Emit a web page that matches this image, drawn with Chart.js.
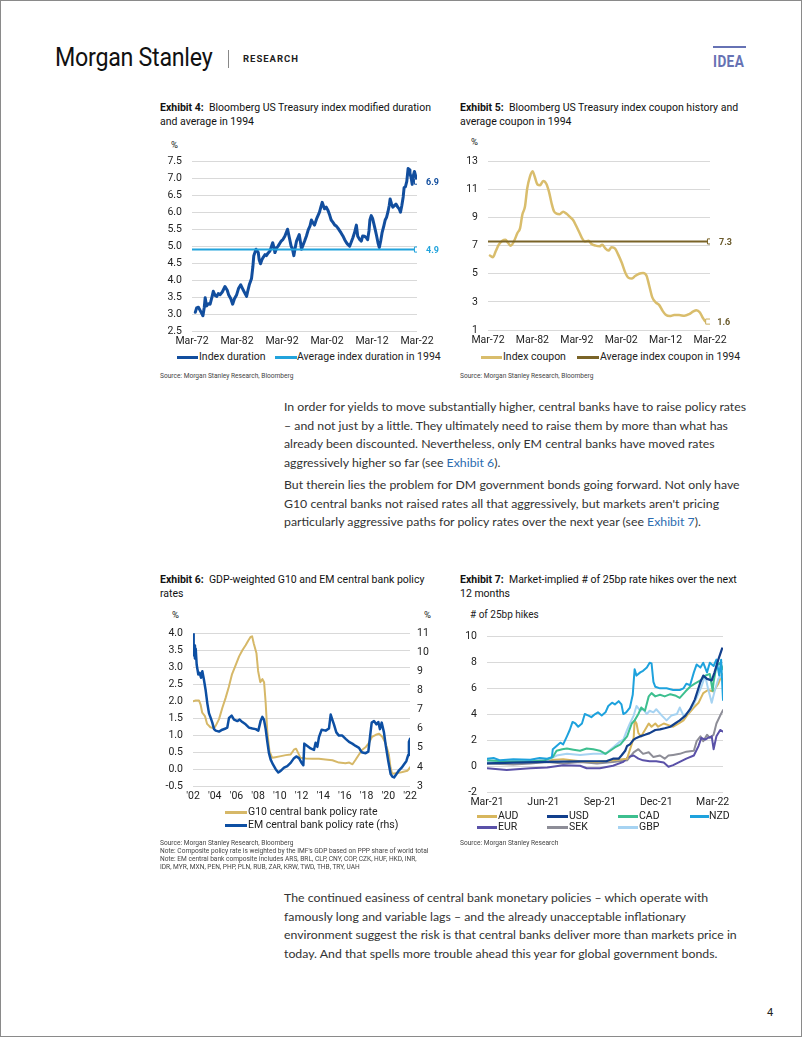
<!DOCTYPE html>
<html><head><meta charset="utf-8">
<script src="https://cdn.jsdelivr.net/npm/chart.js@4.4.1/dist/chart.umd.min.js"></script>
<style>
html,body{margin:0;padding:0;background:#fff}
body{width:802px;height:1037px;position:relative;overflow:hidden;font-family:Roboto,"Liberation Sans",sans-serif;color:#222}
#frame{position:absolute;left:0;top:0;width:800px;height:1035px;border:1px solid #8a8a8a;pointer-events:none}
.a{position:absolute;white-space:nowrap}
.title{font-size:10.5px;line-height:14px;color:#111}
.src{font-size:6.6px;line-height:8px;color:#444}
.leg{font-size:10.5px;line-height:12px;color:#222}
.leg i{position:absolute;top:5px;height:3px;left:0}
.unit{font-size:9.5px;color:#222}
.body{font-family:Lato,"Open Sans",sans-serif;font-size:12.3px;line-height:18.6px;color:#333}
.body a{color:#2c6cb0;text-decoration:none}
canvas{position:absolute}
</style></head>
<body>
<div id="frame"></div>
<!-- header -->
<div class="a" style="left:55px;top:43px;font-size:25px;line-height:30px;color:#111;transform:scaleX(0.93);transform-origin:left center;letter-spacing:-0.3px">Morgan Stanley</div>
<div class="a" style="left:228px;top:50px;width:1px;height:18px;background:#888"></div>
<div class="a" style="left:243px;top:53px;font-size:9.5px;font-weight:700;letter-spacing:1px;color:#222">RESEARCH</div>
<div class="a" style="left:713px;top:46px;width:33px;height:2px;background:#6672b4"></div>
<div class="a" style="left:713px;top:51px;font-size:17px;font-weight:700;color:#6672b4;transform:scaleX(0.8);transform-origin:left center;letter-spacing:0.5px">IDEA</div>

<!-- Exhibit 4 -->
<div class="a title" style="left:160px;top:101px"><b>Exhibit 4:</b>&nbsp; Bloomberg US Treasury index modified duration<br>and average in 1994</div>
<div class="a unit" style="left:171px;top:139px">%</div>
<canvas id="c4" width="290" height="205" style="left:150px;top:145px"></canvas>
<div class="a leg" style="left:177px;top:351px"><i style="width:21px;background:#124e9e"></i><span style="margin-left:22px">Index duration</span></div>
<div class="a leg" style="left:275px;top:351px"><i style="width:22px;background:#22a3dc"></i><span style="margin-left:22px">Average index duration in 1994</span></div>
<div class="a src" style="left:160px;top:372px">Source: Morgan Stanley Research, Bloomberg</div>

<!-- Exhibit 5 -->
<div class="a title" style="left:460px;top:101px"><b>Exhibit 5:</b>&nbsp; Bloomberg US Treasury index coupon history and<br>average coupon in 1994</div>
<div class="a unit" style="left:471px;top:136px">%</div>
<canvas id="c5" width="300" height="205" style="left:450px;top:145px"></canvas>
<div class="a leg" style="left:481px;top:351px"><i style="width:21px;background:#d9bd6c"></i><span style="margin-left:22px">Index coupon</span></div>
<div class="a leg" style="left:577px;top:351px"><i style="width:22px;background:#7a6428"></i><span style="margin-left:23px">Average index coupon in 1994</span></div>
<div class="a src" style="left:460px;top:372px">Source: Morgan Stanley Research, Bloomberg</div>

<!-- body text 1 -->
<div class="a body" style="left:284px;top:398px">In order for yields to move substantially higher, central banks have to raise policy rates<br>– and not just by a little. They ultimately need to raise them by more than what has<br>already been discounted. Nevertheless, only EM central banks have moved rates<br>aggressively higher so far (see <a>Exhibit 6</a>).</div>
<div class="a body" style="left:284px;top:476px">But therein lies the problem for DM government bonds going forward. Not only have<br>G10 central banks not raised rates all that aggressively, but markets aren't pricing<br>particularly aggressive paths for policy rates over the next year (see <a>Exhibit 7</a>).</div>

<!-- Exhibit 6 -->
<div class="a title" style="left:160px;top:573px"><b>Exhibit 6:</b>&nbsp; GDP-weighted G10 and EM central bank policy<br>rates</div>
<div class="a unit" style="left:172px;top:609px">%</div>
<div class="a unit" style="left:424px;top:609px">%</div>
<canvas id="c6" width="290" height="189" style="left:150px;top:617px"></canvas>
<div class="a leg" style="left:225px;top:806px"><i style="width:22px;background:#d6b868"></i><span style="margin-left:23px">G10 central bank policy rate</span></div>
<div class="a leg" style="left:225px;top:819px"><i style="width:22px;background:#0d4fa3"></i><span style="margin-left:23px">EM central bank policy rate (rhs)</span></div>
<div class="a src" style="left:160px;top:839px">Source: Morgan Stanley Research, Bloomberg<br>Note: Composite policy rate is weighted by the IMF's GDP based on PPP share of world total<br>Note: EM central bank composite includes ARS, BRL, CLP, CNY, COP, CZK, HUF, HKD, INR,<br>IDR, MYR, MXN, PEN, PHP, PLN, RUB, ZAR, KRW, TWD, THB, TRY, UAH</div>

<!-- Exhibit 7 -->
<div class="a title" style="left:460px;top:573px"><b>Exhibit 7:</b>&nbsp; Market-implied # of 25bp rate hikes over the next<br>12 months</div>
<div class="a unit" style="left:470px;top:609px;font-size:10px"># of 25bp hikes</div>
<canvas id="c7" width="290" height="194" style="left:450px;top:620px"></canvas>
<div class="a leg" style="left:477px;top:810px"><i style="width:20px;background:#d7b65d"></i><span style="margin-left:21px">AUD</span></div>
<div class="a leg" style="left:547px;top:810px"><i style="width:21px;background:#123f8c"></i><span style="margin-left:22px">USD</span></div>
<div class="a leg" style="left:618px;top:810px"><i style="width:20px;background:#3dbf8f"></i><span style="margin-left:21px">CAD</span></div>
<div class="a leg" style="left:690px;top:810px"><i style="width:19px;background:#1ea2dd"></i><span style="margin-left:19px">NZD</span></div>
<div class="a leg" style="left:477px;top:821px"><i style="width:20px;background:#5a51a8"></i><span style="margin-left:21px">EUR</span></div>
<div class="a leg" style="left:547px;top:821px"><i style="width:21px;background:#8d8d97"></i><span style="margin-left:22px">SEK</span></div>
<div class="a leg" style="left:618px;top:821px"><i style="width:20px;background:#a6d3f2"></i><span style="margin-left:21px">GBP</span></div>
<div class="a src" style="left:460px;top:839px">Source: Morgan Stanley Research</div>

<!-- body text 2 -->
<div class="a body" style="left:284px;top:889px">The continued easiness of central bank monetary policies – which operate with<br>famously long and variable lags – and the already unacceptable inflationary<br>environment suggest the risk is that central banks deliver more than markets price in<br>today. And that spells more trouble ahead this year for global government bonds.</div>

<div class="a" style="left:767px;top:1006px;font-size:11px;color:#222">4</div>

<script>
// ===== Exhibit 4 data =====
const ex4Years = [1972.9,1973.2,1973.6,1974.0,1974.4,1974.6,1974.9,1975.1,1975.4,1975.8,1976.2,1976.6,1976.9,1977.3,1977.7,1978.0,1978.4,1978.9,1979.5,1980.0,1980.3,1980.8,1981.2,1981.6,1982.1,1982.5,1983.0,1983.4,1983.7,1984.3,1984.6,1984.9,1985.4,1985.7,1985.9,1986.4,1986.9,1987.1,1987.4,1987.7,1988.0,1988.4,1988.7,1989.1,1989.5,1990.1,1990.4,1990.6,1991.0,1991.3,1992.0,1992.4,1992.8,1993.4,1993.9,1994.2,1994.5,1994.8,1995.1,1995.4,1996.0,1996.3,1996.5,1996.9,1997.2,1997.6,1998.0,1998.4,1998.7,1999.0,1999.4,1999.9,2000.5,2000.8,2001.1,2001.6,2002.0,2002.4,2002.8,2003.1,2003.5,2003.9,2004.2,2004.6,2005.0,2005.3,2005.7,2006.1,2006.5,2006.8,2007.2,2007.5,2007.9,2008.3,2008.7,2009.0,2009.4,2009.8,2010.1,2010.5,2010.9,2011.2,2011.5,2011.7,2012.0,2012.3,2012.6,2012.9,2013.2,2013.5,2013.8,2014.1,2014.4,2014.8,2015.1,2015.4,2015.7,2016.0,2016.2,2016.5,2016.8,2017.2,2017.5,2017.9,2018.2,2018.5,2018.8,2019.1,2019.3,2019.6,2019.9,2020.05,2020.2,2020.4,2020.6,2020.9,2021.1,2021.3,2021.6,2021.9,2022.1];
const ex4Duration = [3.05,3.18,3.2,3.1,3.0,2.95,3.2,3.48,3.24,3.3,3.29,3.5,3.67,3.55,3.52,3.6,3.57,3.65,3.81,3.7,3.57,3.45,3.29,3.45,3.57,3.75,3.86,3.75,3.67,3.52,3.7,3.86,4.05,4.4,4.72,4.91,4.81,4.6,4.48,4.6,4.67,4.75,4.72,4.8,4.86,5.1,4.95,4.81,4.95,5.0,5.15,5.2,5.29,5.5,5.19,5.0,4.91,4.72,4.95,5.15,5.34,5.1,4.91,5.05,5.15,5.3,5.48,5.6,5.77,5.7,5.62,5.82,6.0,6.15,6.29,6.1,6.15,6.05,5.9,5.77,5.7,5.62,5.6,5.53,5.45,5.39,5.3,5.19,5.1,5.05,5.0,5.1,5.24,5.4,5.62,5.29,5.2,5.15,5.3,5.29,5.25,5.19,5.45,5.77,5.9,5.82,5.65,5.48,5.3,5.1,4.96,5.15,5.39,5.6,5.77,5.85,6.0,6.2,6.39,6.25,6.15,6.2,6.24,6.15,6.1,6.0,6.2,6.45,6.72,6.75,6.91,7.1,7.29,7.25,7.15,7.0,6.82,7.05,7.2,7.05,6.96];
const ex4Avg = 4.9;
const ex4EndLabels = ['6.9', '4.9'];
const ex4EndValues = [6.9, 4.9];
const ex4XLabelStart = 72; // Mar-72 ... Mar-22 every 10 years

// ===== Exhibit 5 data =====
const ex5Years = [1972.6,1973.3,1973.9,1974.6,1975.4,1976.1,1976.7,1977.3,1978.0,1978.8,1979.4,1979.9,1980.5,1981.0,1981.6,1982.2,1982.7,1983.3,1983.9,1984.6,1985.3,1985.9,1986.5,1987.0,1987.6,1988.3,1989.1,1989.8,1990.6,1991.3,1992.1,1992.8,1993.4,1994.0,1994.8,1995.5,1996.4,1997.3,1997.9,1998.5,1999.3,2000.0,2000.8,2001.5,2002.3,2003.1,2003.8,2004.6,2005.3,2006.2,2007.1,2007.9,2008.5,2009.2,2010.0,2010.7,2011.5,2012.2,2013.1,2014.1,2015.2,2016.4,2017.5,2018.4,2019.1,2019.9,2020.5,2021.1,2021.6];
const ex5Coupon = [6.3,6.18,6.6,7.07,7.35,7.42,7.19,7.0,7.3,7.9,8.25,9.2,9.78,11.07,11.9,12.3,11.9,11.35,11.3,11.6,11.4,10.84,10.0,9.47,9.28,9.24,9.42,9.28,9.05,8.84,8.36,7.9,7.5,7.3,7.35,7.12,7.0,6.95,7.07,6.84,6.65,6.88,6.79,6.36,5.78,5.07,4.72,4.67,4.84,5.0,5.05,4.84,4.13,3.3,2.95,2.79,2.36,2.08,1.99,2.06,2.06,2.01,2.13,2.32,2.41,2.25,1.89,1.61,1.54];
const ex5Avg = 7.3;
const ex5EndLabels = ['7.3', '1.6'];
const ex5EndValues = [7.3, 1.6];

// ===== Exhibit 6 data =====
const ex6G10Years = [2002.0,2002.25,2002.55,2002.7,2002.85,2003.1,2003.3,2003.6,2003.95,2004.1,2004.4,2004.7,2005.0,2005.3,2005.6,2005.95,2006.25,2006.55,2006.85,2007.1,2007.3,2007.45,2007.6,2007.85,2008.0,2008.2,2008.4,2008.55,2008.7,2008.85,2009.05,2009.3,2009.6,2010.1,2010.55,2011.0,2011.3,2011.5,2011.7,2011.9,2012.4,2013.0,2013.6,2014.2,2014.85,2015.45,2016.05,2016.4,2016.7,2017.0,2017.3,2017.6,2017.9,2018.2,2018.5,2018.85,2019.15,2019.45,2019.75,2020.05,2020.2,2020.35,2020.85,2021.3,2021.75,2021.9,2022.0];
const ex6G10 = [2.0,2.02,2.02,1.9,1.66,1.56,1.33,1.23,1.2,1.28,1.47,1.8,2.09,2.42,2.8,3.08,3.32,3.5,3.65,3.79,3.89,3.91,3.7,3.41,2.89,2.56,2.65,2.56,1.94,1.09,0.52,0.33,0.35,0.38,0.41,0.43,0.57,0.6,0.47,0.33,0.31,0.3,0.3,0.28,0.26,0.19,0.17,0.19,0.14,0.28,0.43,0.57,0.64,0.76,0.95,1.01,1.04,0.95,0.76,0.43,0.05,-0.14,-0.12,-0.09,-0.05,0.0,0.05];
const ex6EMYears = [2002.0,2002.06,2002.12,2002.18,2002.25,2002.34,2002.49,2002.61,2002.74,2002.86,2003.0,2003.17,2003.32,2003.47,2003.63,2003.78,2003.94,2004.09,2004.4,2004.7,2005.01,2005.16,2005.32,2005.56,2005.78,2006.09,2006.3,2006.55,2006.85,2007.16,2007.47,2007.78,2008.02,2008.23,2008.39,2008.54,2008.7,2008.85,2009.0,2009.16,2009.37,2009.62,2009.86,2010.08,2010.39,2010.69,2011.0,2011.31,2011.52,2011.77,2012.01,2012.17,2012.26,2012.54,2012.84,2013.15,2013.3,2013.46,2013.61,2013.86,2014.23,2014.53,2014.69,2014.84,2014.99,2015.21,2015.45,2015.76,2016.07,2016.38,2016.68,2016.99,2017.3,2017.54,2017.91,2018.16,2018.31,2018.47,2018.68,2018.9,2019.08,2019.23,2019.39,2019.6,2019.76,2020.0,2020.22,2020.37,2020.53,2020.74,2020.99,2021.23,2021.44,2021.66,2021.84,2021.9,2022.0];
const ex6EM = [11.0,9.85,10.36,9.68,10.19,9.35,8.84,8.93,8.67,9.01,8.59,8.0,7.33,6.82,6.57,6.32,5.98,5.9,5.85,5.95,6.01,6.06,6.57,6.69,6.48,6.4,6.48,6.35,6.23,6.06,6.01,5.98,5.9,6.4,6.62,6.48,5.98,5.31,4.72,4.38,4.13,3.88,3.71,3.79,3.96,4.04,4.21,4.46,4.55,4.46,4.21,4.09,5.22,5.1,4.97,4.89,5.27,5.05,5.56,5.95,5.9,6.01,6.74,6.48,6.23,5.81,5.64,5.64,5.47,5.31,5.22,5.1,5.0,4.77,4.72,4.8,5.56,6.32,6.4,6.23,6.35,5.98,6.32,5.81,5.14,4.3,3.62,3.49,3.45,3.62,3.82,3.96,4.13,4.3,4.63,5.31,5.47];

// ===== Exhibit 7 data (x = months since start of Mar-21) =====
const ex7TickLabels = ['Mar-21','Jun-21','Sep-21','Dec-21','Mar-22'];
const ex7NZDm = [0,0.35,0.7,1.4,2.3,2.8,3.2,3.45,3.5,3.7,3.9,4.05,4.25,4.4,4.55,4.7,4.85,5.05,5.2,5.4,5.55,5.75,5.9,6.1,6.3,6.45,6.65,6.8,7.0,7.15,7.25,7.4,7.6,7.75,7.85,7.95,8.15,8.3,8.5,8.65,8.75,8.85,8.95,9.2,9.55,9.9,10.25,10.45,10.6,10.8,11.0,11.15,11.35,11.5,11.7,11.85,12.05,12.2,12.35,12.45,12.55];
const ex7NZD = [0.57,0.62,0.44,0.52,0.49,0.62,0.57,0.69,1.3,1.55,1.8,1.67,2.29,2.78,3.4,3.28,3.03,3.28,4.01,3.89,3.77,4.01,4.14,3.89,4.14,4.63,4.88,4.75,5.0,4.75,4.01,4.14,4.51,5.49,7.46,6.97,7.22,7.34,7.59,7.96,7.91,6.48,6.11,5.99,5.99,5.86,5.86,5.99,6.35,6.23,7.22,7.83,7.59,7.96,7.22,7.96,7.71,8.2,6.97,8.2,5.1];
const ex7CADm = [0,1,2,3,3.5,3.7,4.0,4.25,4.6,4.95,5.3,5.65,6.0,6.3,6.55,6.8,7.1,7.45,7.7,7.85,8.05,8.2,8.4,8.6,8.75,8.95,9.2,9.45,9.75,10.0,10.25,10.55,10.8,11.05,11.35,11.6,11.85,12.0,12.05,12.2,12.4,12.55];
const ex7CAD = [0.45,0.35,0.35,0.4,0.69,1.18,1.3,1.35,1.26,1.18,1.35,1.3,1.18,0.94,1.18,1.43,1.67,2.29,3.28,3.52,4.01,4.51,4.26,5.37,5.62,5.37,5.49,5.37,5.54,5.44,5.25,5.74,6.11,6.35,6.6,6.97,7.09,5.8,6.48,7.71,7.96,7.46];
const ex7USDm = [0,1.4,3.2,5.0,6.35,6.7,7.0,7.15,7.35,7.45,7.6,7.8,7.95,8.15,8.4,8.65,8.95,9.2,9.45,9.75,10.0,10.25,10.55,10.8,11.05,11.35,11.5,11.7,11.95,12.1,12.3,12.5];
const ex7USD = [0.2,0.27,0.32,0.37,0.37,0.57,0.57,0.81,1.18,1.55,1.67,2.04,2.17,2.29,2.41,2.54,2.78,2.83,2.91,3.03,3.28,3.52,3.89,4.38,5.12,6.48,6.97,6.72,6.6,7.22,8.2,9.06];
const ex7AUDm = [0,2.3,4.05,4.95,5.85,6.7,7.45,7.8,7.85,7.95,8.05,8.2,8.4,8.6,8.75,8.95,9.1,9.4,9.65,9.9,10.2,10.45,10.7,11.0,11.25,11.5,11.75,12.05,12.3,12.5];
const ex7AUD = [0.32,0.37,0.52,0.37,0.32,0.44,0.57,2.17,3.52,3.28,2.54,2.29,2.78,3.28,3.03,3.28,3.03,3.28,3.15,3.03,3.28,3.52,4.01,4.51,4.88,5.62,5.86,5.74,6.35,7.09];
const ex7GBPm = [0,1.4,3.2,3.7,4.25,4.95,5.65,6.3,6.7,7.1,7.25,7.45,7.6,7.8,7.95,8.15,8.3,8.5,8.65,8.85,9.0,9.3,9.55,9.8,10.1,10.25,10.45,10.7,11.0,11.25,11.4,11.6,11.75,11.95,12.1,12.3,12.5];
const ex7GBP = [0.32,0.37,0.44,0.81,0.94,0.86,0.94,0.94,1.43,1.92,2.04,2.78,3.28,3.89,4.63,4.26,4.38,4.01,4.26,4.14,4.38,3.89,3.52,3.89,4.01,4.51,3.89,4.14,4.75,5.62,6.11,6.97,5.99,4.88,5.74,6.72,6.97];
const ex7SEKm = [0,1.4,2.3,3.2,4.05,4.95,5.85,6.7,7.45,7.8,8.05,8.3,8.6,8.85,9.2,9.45,9.65,9.9,10.25,10.6,11.0,11.15,11.35,11.5,11.7,11.85,12.05,12.2,12.4,12.55];
const ex7SEK = [0.2,0.12,0.2,0.32,0.2,0.32,0.2,0.32,0.44,1.06,1.3,0.94,1.06,0.69,0.81,0.57,0.81,0.86,0.94,1.11,1.18,1.92,2.29,1.92,2.41,2.17,2.41,3.28,3.89,4.31];
const ex7EURm = [0,1.05,2.3,3.2,4.05,4.95,5.3,6.0,6.7,7.25,7.5,7.8,8.05,8.3,8.65,9.0,9.4,9.65,9.9,10.25,10.6,11.0,11.25,11.4,11.6,11.75,11.95,12.05,12.2,12.4,12.55];
const ex7EUR = [-0.17,-0.3,-0.17,-0.12,0.07,0.02,-0.17,-0.17,0.02,0.32,0.69,0.81,0.57,0.44,0.37,0.37,0.27,-0.05,0.07,0.32,0.57,0.81,1.55,2.17,2.04,2.17,2.29,1.3,2.29,2.78,2.66];

// ===== helpers =====
const FONT = {family:'Roboto', size:10.5};
const TICK_COLOR = '#222';
const GRID = '#d9d9d9';
Chart.defaults.font.family = 'Roboto';
Chart.defaults.animation = false;

const endLabelPlugin = {
  id:'endLabels',
  afterDatasetsDraw(chart){
    const ctx = chart.ctx;
    chart.data.datasets.forEach((ds,i)=>{
      if(!ds.endLabel) return;
      const meta = chart.getDatasetMeta(i);
      const pt = meta.data[meta.data.length-1];
      ctx.save();
      ctx.font = 'bold 9px Roboto';
      ctx.fillStyle = ds.endLabelColor;
      ctx.textBaseline = 'middle';
      ctx.textAlign = 'left';
      ctx.fillText(ds.endLabel, pt.x + 9, pt.y + 1);
      ctx.restore();
    });
  }
};
function pts(xs, ys, off){ return xs.map((x,i)=>({x:x-(off||0), y:ys[i]})); }
function marker(x,y,color,label,labelColor){
  return {data:[{x,y}], showLine:false, pointStyle:'rect', pointRadius:3.6, pointBackgroundColor:'#fff',
    pointBorderColor:color, pointBorderWidth:1, endLabel:label, endLabelColor:labelColor, order:0};
}
function yAxis(min,max,step,width,pad,fmt,pos,grid){
  return {type:'linear', position:pos||'left', min, max,
    ticks:{stepSize:step, color:TICK_COLOR, font:FONT, padding:pad, callback:fmt},
    grid:{display:grid!==false, color:GRID, lineWidth:1, drawTicks:false},
    border:{display:false},
    afterFit(s){ s.width = width; }};
}
function xAxis(min,max,step,height,fmt){
  return {type:'linear', min, max,
    ticks:{stepSize:step, color:TICK_COLOR, font:FONT, padding:4, maxRotation:0, autoSkip:false, callback:fmt},
    grid:{display:false, drawTicks:false}, border:{display:false},
    afterFit(s){ s.height = height; }};
}
const baseOpts = (padding, scales)=>({responsive:false, devicePixelRatio:1, animation:false,
  layout:{padding}, plugins:{legend:{display:false}, tooltip:{enabled:false}}, scales,
  elements:{point:{radius:0}, line:{borderCapStyle:'round', borderJoinStyle:'round'}}});

// ===== Exhibit 4 chart =====
const X4 = 1972.17;
new Chart(document.getElementById('c4'), {
  type:'line',
  data:{datasets:[
    {data:pts(ex4Years, ex4Duration, X4), borderColor:'#124e9e', borderWidth:3, pointRadius:0, order:2},
    {data:[{x:0,y:ex4Avg},{x:50,y:ex4Avg}], borderColor:'#22a3dc', borderWidth:2, pointRadius:0, order:1},
    marker(50, ex4EndValues[0], '#124e9e', ex4EndLabels[0], '#124e9e'),
    marker(50, ex4EndValues[1], '#22a3dc', ex4EndLabels[1], '#22a3dc')
  ]},
  options: baseOpts({top:11,right:23,left:0,bottom:0}, {
    x: xAxis(0,50,10,19, v=>'Mar-'+String((ex4XLabelStart+v)%100).padStart(2,'0')),
    y: yAxis(2.5,7.5,0.5,42,10, v=>v.toFixed(1))
  }),
  plugins:[endLabelPlugin]
});

// ===== Exhibit 5 chart =====
new Chart(document.getElementById('c5'), {
  type:'line',
  data:{datasets:[
    {data:pts(ex5Years, ex5Coupon, X4), borderColor:'#d9bd6c', borderWidth:2.5, pointRadius:0, tension:0.4, cubicInterpolationMode:'monotone', order:2},
    {data:[{x:0,y:ex5Avg},{x:50,y:ex5Avg}], borderColor:'#7a6428', borderWidth:2, pointRadius:0, order:1},
    marker(50, ex5EndValues[0], '#7a6428', ex5EndLabels[0], '#6a5a2c'),
    marker(49.6, ex5EndValues[1], '#c9ad5c', ex5EndLabels[1], '#6a5a2c')
  ]},
  options: baseOpts({top:13,right:40,left:0,bottom:0}, {
    x: xAxis(0,50,10,20, v=>'Mar-'+String((ex4XLabelStart+v)%100).padStart(2,'0')),
    y: yAxis(1,13,2,38,10, v=>String(v))
  }),
  plugins:[endLabelPlugin]
});

// ===== Exhibit 6 chart =====
new Chart(document.getElementById('c6'), {
  type:'line',
  data:{datasets:[
    {data:pts(ex6G10Years, ex6G10), borderColor:'#d6b868', borderWidth:2, pointRadius:0, yAxisID:'y', order:2},
    {data:pts(ex6EMYears, ex6EM), borderColor:'#0d4fa3', borderWidth:2.5, pointRadius:0, yAxisID:'y2', order:1}
  ]},
  options: baseOpts({top:10,right:0,left:0,bottom:0}, {
    x: xAxis(2002,2022,2,20, v=>"'"+String(v).slice(2)),
    y: yAxis(-0.5,4.0,0.5,43,10, v=>v.toFixed(1)),
    y2: yAxis(3,11,1,30,7, v=>String(v),'right',false)
  })
});

// ===== Exhibit 7 chart =====
const ex7Ticks = [0,3,6,9,12];
new Chart(document.getElementById('c7'), {
  type:'line',
  data:{datasets:[
    {data:pts(ex7SEKm, ex7SEK), borderColor:'#8d8d97', borderWidth:2, order:7},
    {data:pts(ex7EURm, ex7EUR), borderColor:'#5a51a8', borderWidth:2, order:6},
    {data:pts(ex7AUDm, ex7AUD), borderColor:'#d7b65d', borderWidth:2, order:5},
    {data:pts(ex7GBPm, ex7GBP), borderColor:'#a6d3f2', borderWidth:2, order:4},
    {data:pts(ex7CADm, ex7CAD), borderColor:'#3dbf8f', borderWidth:2, order:3},
    {data:pts(ex7NZDm, ex7NZD), borderColor:'#1ea2dd', borderWidth:2, order:2},
    {data:pts(ex7USDm, ex7USD), borderColor:'#123f8c', borderWidth:2.2, order:1}
  ]},
  options: (()=>{
    const o = baseOpts({top:9,right:17,left:0,bottom:0}, {
      x: xAxis(0,12.55,3,22, (v)=>{const k=ex7Ticks.indexOf(v); return k>=0?ex7TickLabels[k]:'';}),
      y: yAxis(-2,10,2,37,10, v=>String(v))
    });
    o.scales.x.afterBuildTicks = (s)=>{ s.ticks = ex7Ticks.map(v=>({value:v})); };
    return o;
  })()
});
</script>
</body></html>
